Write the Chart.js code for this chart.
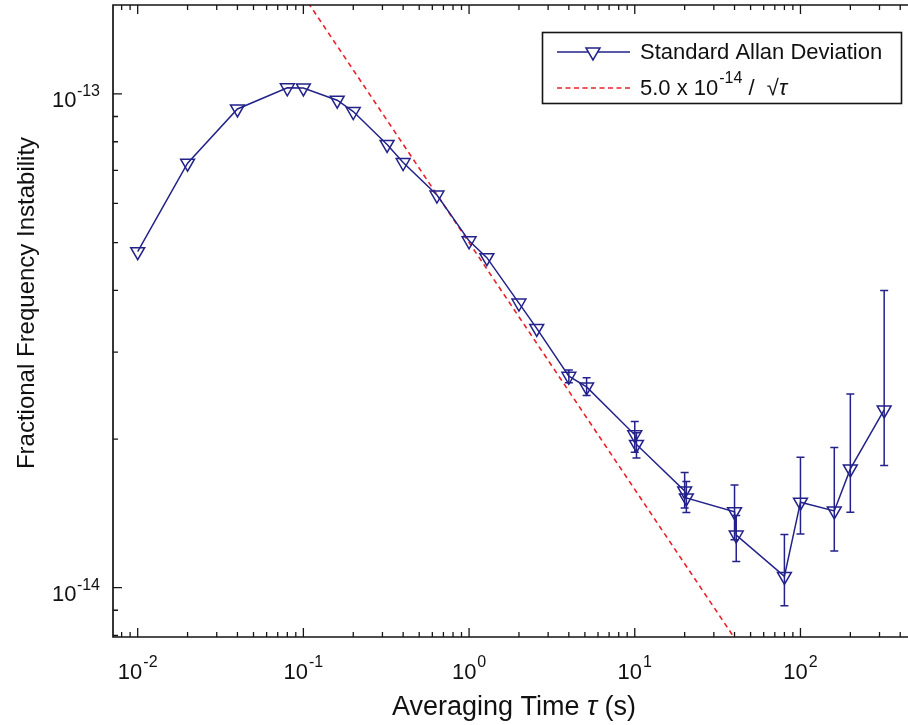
<!DOCTYPE html>
<html>
<head>
<meta charset="utf-8">
<script src="https://cdn.jsdelivr.net/npm/chart.js@4.4.1/dist/chart.umd.min.js"></script>
<style>
  html, body { margin: 0; padding: 0; background: #fff; }
</style>
</head>
<body>
<canvas id="allan" width="908" height="725"></canvas>
<script>
// averaging times (s) and Allan deviation
const tau = [0.01, 0.02, 0.04, 0.08, 0.1, 0.16, 0.2, 0.32, 0.4, 0.64, 1, 1.28, 2, 2.56, 4, 5.12,
             10, 10.24, 20, 20.48, 40, 40.96, 80, 100, 160, 200, 320];
const sigma = [4.79e-14, 7.24e-14, 9.32e-14, 1.029e-13, 1.028e-13, 9.71e-14, 9.21e-14, 7.90e-14, 7.26e-14, 6.24e-14,
               5.04e-14, 4.66e-14, 3.77e-14, 3.35e-14, 2.68e-14, 2.55e-14,
               2.04e-14, 1.95e-14, 1.57e-14, 1.52e-14, 1.425e-14, 1.278e-14, 1.054e-14, 1.49e-14, 1.43e-14, 1.74e-14, 2.29e-14];
// error bar ends (null = no bar)
const errLow = [null, null, null, null, null, null, null, null, null, null,
                null, null, null, null, 2.60e-14, 2.45e-14,
                1.88e-14, 1.83e-14, 1.45e-14, 1.42e-14, 1.25e-14, 1.13e-14, 0.919e-14, 1.285e-14, 1.187e-14, 1.422e-14, 1.767e-14];
const errHigh = [null, null, null, null, null, null, null, null, null, null,
                 null, null, null, null, 2.76e-14, 2.66e-14,
                 2.17e-14, 2.06e-14, 1.71e-14, 1.64e-14, 1.615e-14, 1.40e-14, 1.281e-14, 1.838e-14, 1.922e-14, 2.466e-14, 4.0e-14];

// 5.0e-14 / sqrt(tau) reference line, two end points
const fitTau = [0.01, 100];
const fitSigma = [5.0e-13, 5.0e-15];

const xTicks = [0.01, 0.1, 1, 10, 100];
const xTickExp = ['-2', '-1', '0', '1', '2'];
const yTicks = [1e-14, 1e-13];
const yTickExp = ['-14', '-13'];

const navy = '#22228a';
const red = '#e8212b';
const FONT = '"Liberation Sans", Arial, sans-serif';

function logTicks(min, max) {
  let out = [];
  for (let e = Math.floor(Math.log10(min)); e <= Math.ceil(Math.log10(max)); e++) {
    for (let m = 1; m < 10; m++) {
      let v = m * Math.pow(10, e);
      if (v >= min && v <= max) out.push({ v: v, major: m == 1 });
    }
  }
  return out;
}

const axesPlugin = {
  id: 'axesPlugin',
  afterDatasetsDraw(chart) {
    const ctx = chart.ctx;
    const a = chart.chartArea;
    const xs = chart.scales.x;
    const ys = chart.scales.y;
    ctx.save();

    // error bars
    ctx.strokeStyle = navy;
    ctx.lineWidth = 1.5;
    for (let i = 0; i < tau.length; i++) {
      if (errLow[i] == null) continue;
      const px = xs.getPixelForValue(tau[i]);
      const lo = ys.getPixelForValue(errLow[i]);
      const hi = ys.getPixelForValue(errHigh[i]);
      ctx.beginPath();
      ctx.moveTo(px, lo); ctx.lineTo(px, hi);
      ctx.moveTo(px - 4, lo); ctx.lineTo(px + 4, lo);
      ctx.moveTo(px - 4, hi); ctx.lineTo(px + 4, hi);
      ctx.stroke();
    }

    // frame (left, top, bottom)
    ctx.strokeStyle = '#151515';
    ctx.lineWidth = 1.7;
    ctx.beginPath();
    ctx.moveTo(a.right, a.top); ctx.lineTo(a.left, a.top);
    ctx.lineTo(a.left, a.bottom); ctx.lineTo(a.right, a.bottom);
    ctx.stroke();

    // inward ticks
    ctx.lineWidth = 1.3;
    ctx.beginPath();
    logTicks(xs.min, xs.max).forEach(t => {
      const px = xs.getPixelForValue(t.v);
      const len = t.major ? 9 : 5;
      ctx.moveTo(px, a.bottom); ctx.lineTo(px, a.bottom - len);
      ctx.moveTo(px, a.top); ctx.lineTo(px, a.top + len);
    });
    logTicks(ys.min, ys.max).forEach(t => {
      const py = ys.getPixelForValue(t.v);
      const len = t.major ? 9 : 5;
      ctx.moveTo(a.left, py); ctx.lineTo(a.left + len, py);
    });
    ctx.stroke();

    // tick labels
    ctx.fillStyle = '#111';
    ctx.textBaseline = 'alphabetic';
    xTicks.forEach((v, i) => {
      const px = xs.getPixelForValue(v);
      ctx.font = '22px ' + FONT;
      const bw = ctx.measureText('10').width;
      ctx.font = '16px ' + FONT;
      const sw = ctx.measureText(xTickExp[i]).width;
      const x0 = px - (bw + sw + 1) / 2;
      ctx.textAlign = 'left';
      ctx.font = '22px ' + FONT;
      ctx.fillText('10', x0, a.bottom + 41.5);
      ctx.font = '16px ' + FONT;
      ctx.fillText(xTickExp[i], x0 + bw + 1, a.bottom + 30);
    });
    yTicks.forEach((v, i) => {
      const py = ys.getPixelForValue(v);
      ctx.font = '16px ' + FONT;
      const sw = ctx.measureText(yTickExp[i]).width;
      ctx.textAlign = 'right';
      ctx.fillText(yTickExp[i], 100, py + 2.5);
      ctx.font = '22px ' + FONT;
      ctx.fillText('10', 100 - sw - 0.5, py + 13);
    });

    // axis titles
    ctx.font = '27px ' + FONT;
    const p1 = 'Averaging Time ', p3 = ' (s)';
    const w1 = ctx.measureText(p1).width, w3 = ctx.measureText(p3).width;
    ctx.font = 'italic 27px ' + FONT;
    const w2 = ctx.measureText('\u03c4').width;
    let tx = 514 - (w1 + w2 + w3) / 2;
    ctx.textAlign = 'left';
    ctx.font = '27px ' + FONT;
    ctx.fillText(p1, tx, 715);
    ctx.font = 'italic 27px ' + FONT;
    ctx.fillText('\u03c4', tx + w1, 715);
    ctx.font = '27px ' + FONT;
    ctx.fillText(p3, tx + w1 + w2, 715);

    ctx.save();
    ctx.translate(34, 303);
    ctx.rotate(-Math.PI / 2);
    ctx.textAlign = 'center';
    ctx.font = '24px ' + FONT;
    ctx.fillText('Fractional Frequency Instability', 0, 0);
    ctx.restore();

    // legend
    ctx.fillStyle = '#fff';
    ctx.fillRect(542, 32, 360, 71);
    ctx.strokeStyle = '#151515';
    ctx.lineWidth = 1.6;
    ctx.strokeRect(542.5, 32.5, 359, 71);

    ctx.strokeStyle = navy;
    ctx.lineWidth = 1.5;
    ctx.beginPath();
    ctx.moveTo(557, 52); ctx.lineTo(630, 52);
    ctx.stroke();
    ctx.beginPath();
    ctx.moveTo(586, 48); ctx.lineTo(600, 48); ctx.lineTo(593, 60); ctx.closePath();
    ctx.fillStyle = '#fff';
    ctx.fill();
    ctx.stroke();

    ctx.strokeStyle = red;
    ctx.setLineDash([5, 3.5]);
    ctx.beginPath();
    ctx.moveTo(557, 88); ctx.lineTo(630, 88);
    ctx.stroke();
    ctx.setLineDash([]);

    ctx.fillStyle = '#111';
    ctx.textAlign = 'left';
    ctx.textBaseline = 'middle';
    ctx.font = '22px ' + FONT;
    ctx.fillText('Standard Allan Deviation', 640, 53);
    let lx = 640;
    ctx.fillText('5.0 x 10', lx, 89);
    lx += ctx.measureText('5.0 x 10').width + 1;
    ctx.font = '16px ' + FONT;
    ctx.fillText('-14', lx, 79);
    lx += ctx.measureText('-14').width;
    ctx.font = '22px ' + FONT;
    ctx.fillText(' /  \u221a', lx, 89);
    lx += ctx.measureText(' /  \u221a').width;
    ctx.font = 'italic 22px ' + FONT;
    ctx.fillText('\u03c4', lx, 89);

    ctx.restore();
  }
};

new Chart(document.getElementById('allan'), {
  type: 'line',
  data: {
    datasets: [
      {
        label: 'Standard Allan Deviation',
        data: tau.map((t, i) => ({ x: t, y: sigma[i] })),
        borderColor: navy,
        borderWidth: 1.5,
        tension: 0,
        pointStyle: 'triangle',
        pointRotation: 180,
        pointRadius: 8,
        pointBorderColor: navy,
        pointBorderWidth: 1.5,
        pointBackgroundColor: 'rgba(255,255,255,0)'
      },
      {
        label: '5.0 x 10^-14 / sqrt(tau)',
        data: fitTau.map((t, i) => ({ x: t, y: fitSigma[i] })),
        borderColor: red,
        borderWidth: 1.6,
        borderDash: [5, 4],
        pointRadius: 0,
        tension: 0
      }
    ]
  },
  options: {
    responsive: false,
    animation: false,
    devicePixelRatio: 1,
    layout: { autoPadding: false, padding: { left: 113, top: 5, right: 0, bottom: 88 } },
    plugins: { legend: { display: false }, tooltip: { enabled: false } },
    scales: {
      x: { type: 'logarithmic', display: false, min: Math.pow(10, -2.149), max: Math.pow(10, 2.649) },
      y: { type: 'logarithmic', display: false, min: Math.pow(10, -14.0999), max: Math.pow(10, -12.82) }
    }
  },
  plugins: [axesPlugin]
});
</script>
</body>
</html>
